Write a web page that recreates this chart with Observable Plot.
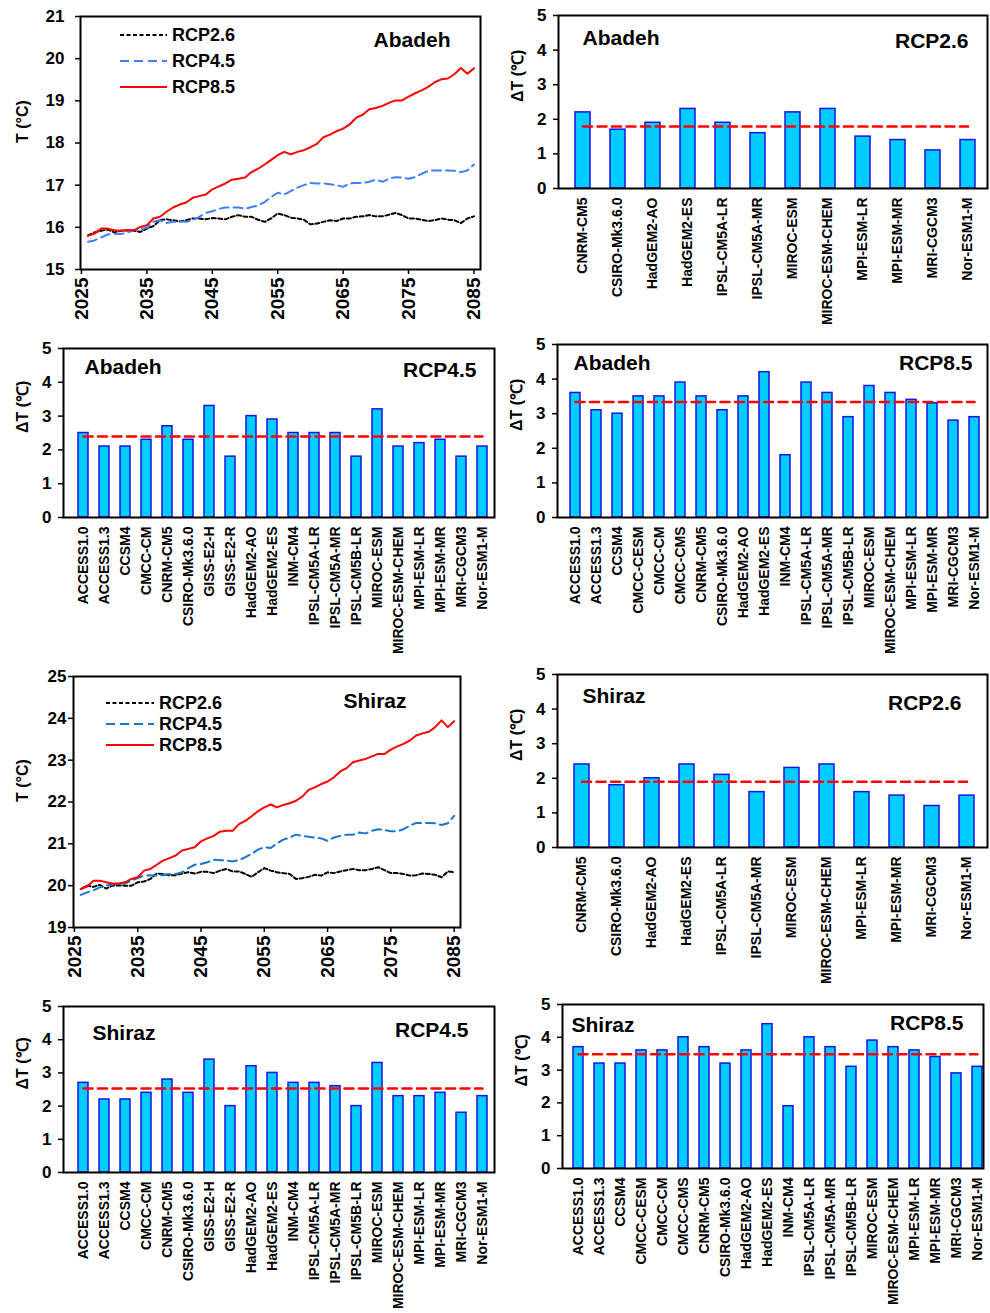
<!DOCTYPE html>
<html><head><meta charset="utf-8">
<script src="https://cdn.jsdelivr.net/npm/d3@7"></script>
<script src="https://cdn.jsdelivr.net/npm/@observablehq/plot@0.6"></script>
<style>
body{margin:0;background:#fff;}
#root{position:relative;width:990px;height:1313px;overflow:hidden;font-family:"Liberation Sans",Arial,sans-serif;}
.panel{position:absolute;}
.panel svg{overflow:visible;}
</style></head><body><div id="root"></div>
<script>
// ---------- data ----------
const startYear = 2026;
const yearTicks = [2025, 2035, 2045, 2055, 2065, 2075, 2085];
const abadehTicks = [15, 16, 17, 18, 19, 20, 21];
const shirazTicks = [19, 20, 21, 22, 23, 24, 25];
const dTTicks = [0, 1, 2, 3, 4, 5];

const abadehRcp26 = [15.81,15.88,15.92,15.95,15.88,15.92,15.93,15.92,15.89,15.97,16.03,16.17,16.19,16.17,16.14,16.17,16.21,16.21,16.19,16.22,16.21,16.19,16.25,16.29,16.25,16.25,16.18,16.13,16.21,16.33,16.29,16.23,16.21,16.18,16.07,16.09,16.13,16.17,16.15,16.21,16.21,16.25,16.26,16.29,16.26,16.26,16.30,16.34,16.29,16.21,16.21,16.18,16.15,16.17,16.21,16.18,16.17,16.10,16.21,16.26];
const abadehRcp45 = [15.66,15.69,15.76,15.83,15.85,15.84,15.88,15.93,15.95,15.99,16.13,16.17,16.10,16.13,16.14,16.13,16.17,16.25,16.34,16.38,16.44,16.47,16.47,16.47,16.44,16.48,16.52,16.60,16.72,16.82,16.78,16.86,16.94,17.00,17.05,17.04,17.04,17.02,17.00,16.96,17.04,17.05,17.05,17.08,17.13,17.08,17.15,17.19,17.18,17.15,17.19,17.27,17.34,17.35,17.35,17.35,17.34,17.31,17.35,17.49];
const abadehRcp85 = [15.80,15.85,15.97,15.97,15.93,15.92,15.93,15.93,16.01,16.05,16.21,16.25,16.37,16.47,16.54,16.59,16.70,16.74,16.78,16.90,16.97,17.04,17.13,17.15,17.18,17.31,17.39,17.49,17.60,17.71,17.79,17.73,17.79,17.83,17.90,17.98,18.14,18.20,18.28,18.34,18.44,18.60,18.67,18.80,18.83,18.88,18.95,19.01,19.01,19.10,19.18,19.25,19.33,19.44,19.51,19.53,19.63,19.78,19.64,19.77];

const shirazRcp26 = [19.92,20.00,19.97,20.02,19.93,20.00,20.01,20.00,20.00,20.08,20.10,20.16,20.29,20.28,20.25,20.25,20.29,20.32,20.29,20.33,20.33,20.30,20.36,20.40,20.34,20.34,20.28,20.21,20.32,20.42,20.36,20.32,20.30,20.28,20.16,20.18,20.21,20.26,20.24,20.32,20.30,20.34,20.37,20.40,20.37,20.37,20.40,20.44,20.37,20.30,20.30,20.28,20.24,20.25,20.29,20.28,20.26,20.20,20.34,20.32];
const shirazRcp45 = [19.78,19.84,19.89,19.96,20.01,20.02,20.05,20.05,20.12,20.18,20.24,20.25,20.24,20.25,20.28,20.28,20.32,20.42,20.50,20.52,20.56,20.62,20.61,20.60,20.58,20.61,20.68,20.76,20.86,20.92,20.90,21.01,21.10,21.15,21.22,21.19,21.17,21.15,21.13,21.07,21.15,21.19,21.22,21.22,21.27,21.25,21.31,21.35,21.33,21.30,21.30,21.35,21.43,21.50,21.50,21.50,21.49,21.45,21.49,21.67];
const shirazRcp85 = [19.92,19.98,20.12,20.12,20.08,20.05,20.05,20.08,20.16,20.20,20.36,20.40,20.50,20.60,20.66,20.72,20.84,20.88,20.92,21.06,21.13,21.19,21.29,21.31,21.31,21.47,21.55,21.66,21.78,21.87,21.94,21.87,21.93,21.97,22.03,22.13,22.29,22.35,22.43,22.49,22.59,22.73,22.81,22.95,22.99,23.03,23.09,23.15,23.15,23.25,23.33,23.39,23.47,23.59,23.64,23.68,23.79,23.95,23.79,23.93];

const models26 = ["CNRM-CM5","CSIRO-Mk3.6.0","HadGEM2-AO","HadGEM2-ES","IPSL-CM5A-LR","IPSL-CM5A-MR","MIROC-ESM","MIROC-ESM-CHEM","MPI-ESM-LR","MPI-ESM-MR","MRI-CGCM3","Nor-ESM1-M"];
const models45 = ["ACCESS1.0","ACCESS1.3","CCSM4","CMCC-CM","CNRM-CM5","CSIRO-Mk3.6.0","GISS-E2-H","GISS-E2-R","HadGEM2-AO","HadGEM2-ES","INM-CM4","IPSL-CM5A-LR","IPSL-CM5A-MR","IPSL-CM5B-LR","MIROC-ESM","MIROC-ESM-CHEM","MPI-ESM-LR","MPI-ESM-MR","MRI-CGCM3","Nor-ESM1-M"];
const models85 = ["ACCESS1.0","ACCESS1.3","CCSM4","CMCC-CESM","CMCC-CM","CMCC-CMS","CNRM-CM5","CSIRO-Mk3.6.0","HadGEM2-AO","HadGEM2-ES","INM-CM4","IPSL-CM5A-LR","IPSL-CM5A-MR","IPSL-CM5B-LR","MIROC-ESM","MIROC-ESM-CHEM","MPI-ESM-LR","MPI-ESM-MR","MRI-CGCM3","Nor-ESM1-M"];

const abadehDT26 = [2.2,1.7,1.9,2.3,1.9,1.6,2.2,2.3,1.5,1.4,1.1,1.4];
const abadehDT45 = [2.5,2.1,2.1,2.3,2.7,2.3,3.3,1.8,3.0,2.9,2.5,2.5,2.5,1.8,3.2,2.1,2.2,2.3,1.8,2.1];
const abadehDT85 = [3.6,3.1,3.0,3.5,3.5,3.9,3.5,3.1,3.5,4.2,1.8,3.9,3.6,2.9,3.8,3.6,3.4,3.3,2.8,2.9];
const shirazDT26 = [2.4,1.8,2.0,2.4,2.1,1.6,2.3,2.4,1.6,1.5,1.2,1.5];
const shirazDT45 = [2.7,2.2,2.2,2.4,2.8,2.4,3.4,2.0,3.2,3.0,2.7,2.7,2.6,2.0,3.3,2.3,2.3,2.4,1.8,2.3];
const shirazDT85 = [3.7,3.2,3.2,3.6,3.6,4.0,3.7,3.2,3.6,4.4,1.9,4.0,3.7,3.1,3.9,3.7,3.6,3.4,2.9,3.1];
const ensembleMeans = {abadeh26: 1.79, abadeh45: 2.40, abadeh85: 3.34, shiraz26: 1.90, shiraz45: 2.53, shiraz85: 3.48};

const scenarios = ["RCP2.6", "RCP4.5", "RCP8.5"];

// ---------- helpers ----------
const root = document.getElementById("root");
const FONT = "'Liberation Sans', Arial, sans-serif";
const intFmt = d => String(d);

function place(svg, left, top) {
  const d = document.createElement("div");
  d.className = "panel";
  d.style.left = left + "px";
  d.style.top = top + "px";
  d.appendChild(svg);
  root.appendChild(d);
}

function toSeries(arr) { return arr.map((v, i) => ({year: startYear + i, value: v})); }

function linePanel(o) {
  const svg = Plot.plot({
    width: o.w, height: o.h,
    marginLeft: o.m[0], marginTop: o.m[1], marginRight: o.m[2], marginBottom: o.m[3],
    style: {fontFamily: FONT, color: "black", background: "transparent"},
    x: {domain: [2024.85, 2086]},
    y: {domain: o.ydom},
    marks: [
      Plot.axisX({ticks: yearTicks, tickFormat: intFmt, tickRotate: -90, tickSize: 5, tickPadding: 3,
        fontSize: 19, fontWeight: "bold", strokeWidth: 1.5, label: null}),
      Plot.axisY({ticks: o.yticks, tickFormat: intFmt, tickSize: 5, tickPadding: o.ypad, fontSize: 17, fontWeight: "bold", strokeWidth: 1.5, label: null}),
      Plot.line(toSeries(o.s26), {x: "year", y: "value", stroke: "black", strokeWidth: 2, strokeDasharray: "4,2.5"}),
      Plot.line(toSeries(o.s45), {x: "year", y: "value", stroke: o.blue, strokeWidth: 2, strokeDasharray: "9,5"}),
      Plot.line(toSeries(o.s85), {x: "year", y: "value", stroke: "#ff0000", strokeWidth: 2}),
      Plot.frame({stroke: "black", strokeWidth: 2}),
      Plot.text(["T (°C)"], {text: d => d, frameAnchor: "left", rotate: -90, dx: o.labelDx, fontSize: 16, fontWeight: "bold"}),
      Plot.text([o.title], {text: d => d, frameAnchor: "top-right", textAnchor: "end", lineAnchor: "middle",
        dx: o.titleDx, dy: o.titleDy, fontSize: 21, fontWeight: "bold"})
    ]
  });
  place(svg, o.x0, o.y0);
}

function legend(o) {
  const svg = d3.create("svg").attr("width", 130).attr("height", 80)
    .style("position", "absolute").style("left", o.x + "px").style("top", o.y + "px").style("overflow", "visible");
  const styles = [
    {stroke: "black", dash: "4,2.5"},
    {stroke: o.blue, dash: "9,5"},
    {stroke: "#ff0000", dash: null}
  ];
  scenarios.forEach((name, i) => {
    const cy = i * o.gap;
    const ln = svg.append("line").attr("x1", 0).attr("x2", o.len).attr("y1", cy).attr("y2", cy)
      .attr("stroke", styles[i].stroke).attr("stroke-width", 2);
    if (styles[i].dash) ln.attr("stroke-dasharray", styles[i].dash);
    svg.append("text").attr("x", o.len + 5).attr("y", cy).attr("dy", "0.35em")
      .attr("font-family", FONT).attr("font-weight", "bold").attr("font-size", 18).text(name);
  });
  root.appendChild(svg.node());
}

function barPanel(o) {
  const data = o.models.map((m, i) => ({model: m, value: o.values[i]}));
  const svg = Plot.plot({
    width: o.w, height: o.h,
    marginLeft: o.m[0], marginTop: o.m[1], marginRight: o.m[2], marginBottom: o.m[3],
    style: {fontFamily: FONT, color: "black", background: "transparent"},
    x: {domain: o.models, paddingInner: o.pi, paddingOuter: o.po, align: o.align},
    y: {domain: [0, 5]},
    marks: [
      Plot.axisX({tickRotate: -90, tickSize: 0, tickPadding: 9, fontSize: 14, fontWeight: "bold", label: null}),
      Plot.axisY({ticks: dTTicks, tickFormat: intFmt, tickSize: 5, tickPadding: 7, fontSize: 17, fontWeight: "bold", strokeWidth: 1.5, label: null}),
      Plot.barY(data, {x: "model", y: "value", fill: "#00ccff", stroke: "#1414e6", strokeWidth: 1.5}),
      Plot.line(o.models, {x: d => d, y: () => o.mean, stroke: "#ff0000", strokeWidth: 2.5, strokeDasharray: "9,5.5"}),
      Plot.frame({stroke: "black", strokeWidth: 2}),
      Plot.text(["ΔT (℃)"], {text: d => d, frameAnchor: "left", rotate: -90, dx: -41, fontSize: 16, fontWeight: "bold"}),
      Plot.text([o.site], {text: d => d, frameAnchor: "top-left", textAnchor: "start", lineAnchor: "middle",
        dx: o.siteD[0], dy: o.siteD[1], fontSize: 21, fontWeight: "bold"}),
      Plot.text([o.rcp], {text: d => d, frameAnchor: "top-right", textAnchor: "end", lineAnchor: "middle",
        dx: o.rcpD[0], dy: o.rcpD[1], fontSize: 21, fontWeight: "bold"})
    ]
  });
  place(svg, o.x0, o.y0);
}

// ---------- panels ----------
linePanel({x0: 0, y0: 0, w: 495, h: 330, m: [80, 16, 15, 61], ydom: [15, 21], yticks: abadehTicks, ypad: 11,
  s26: abadehRcp26, s45: abadehRcp45, s85: abadehRcp85, blue: "#3f7fff", labelDx: -58,
  title: "Abadeh", titleDx: -30, titleDy: 24});
legend({x: 120, y: 35, len: 47, gap: 26, blue: "#3f7fff"});

barPanel({x0: 495, y0: 0, w: 495, h: 330, m: [63, 15, 3, 142], models: models26, values: abadehDT26,
  mean: ensembleMeans.abadeh26, pi: 0.57, po: 0.35, align: 0.58, site: "Abadeh", rcp: "RCP2.6",
  siteD: [24, 23], rcpD: [-19, 26]});

barPanel({x0: 0, y0: 330, w: 495, h: 330, m: [63, 18, 1, 143], models: models45, values: abadehDT45,
  mean: ensembleMeans.abadeh45, pi: 0.54, po: 0.4, align: 0.65, site: "Abadeh", rcp: "RCP4.5",
  siteD: [21, 19], rcpD: [-18, 22]});

barPanel({x0: 495, y0: 330, w: 495, h: 330, m: [62, 14, 3, 143], models: models85, values: abadehDT85,
  mean: ensembleMeans.abadeh85, pi: 0.53, po: 0.38, align: 0.6, site: "Abadeh", rcp: "RCP8.5",
  siteD: [16, 19], rcpD: [-15, 19]});

linePanel({x0: 0, y0: 660, w: 495, h: 330, m: [73, 16, 35, 63], ydom: [19, 25], yticks: shirazTicks, ypad: 2,
  s26: shirazRcp26, s45: shirazRcp45, s85: shirazRcp85, blue: "#1a75cc", labelDx: -51,
  title: "Shiraz", titleDx: -54, titleDy: 25});
legend({x: 106, y: 703, len: 48, gap: 21, blue: "#1a75cc"});

barPanel({x0: 495, y0: 660, w: 495, h: 330, m: [62, 14, 3, 143], models: models26, values: shirazDT26,
  mean: ensembleMeans.shiraz26, pi: 0.57, po: 0.35, align: 0.58, site: "Shiraz", rcp: "RCP2.6",
  siteD: [25, 22], rcpD: [-26, 29]});

barPanel({x0: 0, y0: 990, w: 495, h: 323, m: [63, 16, 1, 141], models: models45, values: shirazDT45,
  mean: ensembleMeans.shiraz45, pi: 0.54, po: 0.4, align: 0.65, site: "Shiraz", rcp: "RCP4.5",
  siteD: [29, 27], rcpD: [-26, 24]});

barPanel({x0: 495, y0: 990, w: 495, h: 323, m: [67, 14, 7, 145], models: models85, values: shirazDT85,
  mean: ensembleMeans.shiraz85, pi: 0.53, po: 0.17, align: 0.9, site: "Shiraz", rcp: "RCP8.5",
  siteD: [9, 21], rcpD: [-20, 19]});
</script></body></html>
